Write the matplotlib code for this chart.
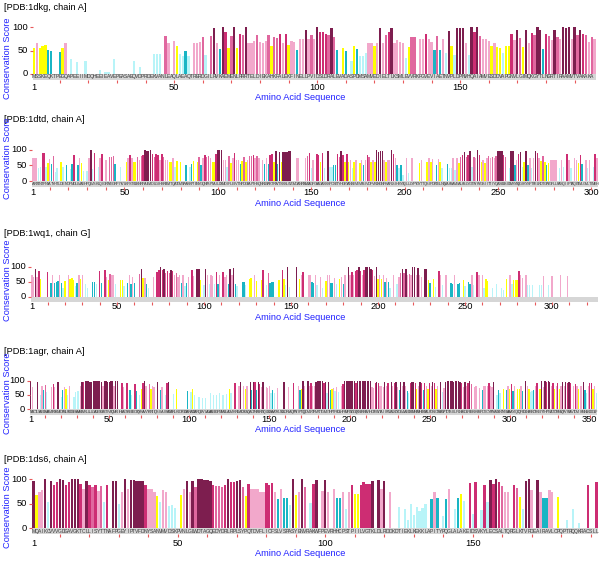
import matplotlib.pyplot as plt
from matplotlib.ticker import MultipleLocator

plt.rcParams['font.family'] = ['Liberation Sans', 'DejaVu Sans']

# Panel titles
titles = ['[PDB:1dkg, chain A]', '[PDB:1dtd, chain A]', '[PDB:1wq1, chain G]',
          '[PDB:1agr, chain A]', '[PDB:1ds6, chain A]']

# Residue sequences shown in the grey strip under each panel ('' = not readable)
seq_1dkg = ("MSSKEQKTPEGQAPEEIIMDQHEEIEAVEPEASAEQVDPRDEKVANLEAQLAEAQTRERDGILRVKAEMEN"
            "LRRRTELDIEKAHKFALEKFINELLPVIDSLDRALEVADASPDMSAMVEDIELTLKSMLEVVRKFGVEVIA"
            "ETNVPLDPNVHQAIAMVESDDVAPGNVLGIMQKGYTLNGRTIRAAMVTVAKAKA")
seq_1dtd = ("ARSTNTFNYATYHTLDEIYDFMDLLVAEHPQLVSKLQIGRSYEGRPIYVLKFSTGGSNRPAIWIDLGIHSRE"
            "WITQATGVWFAKKFTENYGQNPSFTAILDSMDIFLEIVTNPDGFAFTHSQNRLWRKTRSVTSSSLCVGVDAN"
            "RNWDAGFGKAGASSSPCSETYHGKYANSEVEVKSIVDFVKDHGNFKAFLSIHSYSQLLLYPYGYTTQSIPDK"
            "TELNQVAKSAVEALKSLYGTSYKYGSIITTIYQASGGSIDWSYNQGIKYSFTFELRDTGRYGFLLPASQIIP"
            "TAQETWLGVLTIMEHTVNNLY")
seq_1wq1 = ""
seq_1agr = ("MGCTLSAEDKAAVERSKMIDRNLREDGEKAAREVKLLLLGAGESGKSTIVKQMKIIHEAGYSEEECKQYKAV"
            "VYSNTIQSIIAIIRAMGRLKIDFGDSARADDARQLFVLAGAAEEGFMTAELAGVIKRLWKDSGVQACFNRSR"
            "EYQLNDSAAYYLNDLDRIAQPNYIPTQQDVLRTRVKTTGIVETHFTFKDLHFKMFDVGGQRSERKKWIHCFE"
            "GVTAIIFCVALSDYDLVLAEDEEMNRMHESMKLFDSICNNKWFTDTSIILFLNKKDLFEEKIKKSPLTICYP"
            "EYAGSNTYEEAAAYIQCQFEDLNKRKDTKEIYTHFTCATDTKNVQFVFDAVTDVIIKNNLKDCGLF")
seq_1ds6 = ("MQAIKCVVVGDGAVGKTCLLISYTTNAFPGEYIPTVFDNYSANVMVDSKPVNLGLWDTAGQEDYDRLRPLSY"
            "PQTDVFLICFSLVSPASYENVRAKWFPEVRHHCPSTPIILVGTKLDLRDDKDTIEKLKEKKLAPITYPQGLA"
            "LAKEIDSVKYLECSALTQRGLKTVFDEAIRAVLCPQPTRQQKRACSLL")

# Conservation score per residue
score_1dkg = [
    56, 67, 56, 60, 62, 52, 49, 0, 0, 47,
    55, 67, 0, 31, 0, 25, 0, 0, 28, 0,
    0, 0, 0, 8, 0, 5, 5, 0, 32, 0,
    0, 0, 0, 0, 0, 28, 0, 14, 0, 0,
    0, 0, 43, 43, 43, 0, 80, 65, 0, 70,
    60, 43, 38, 50, 38, 0, 67, 65, 69, 78,
    40, 0, 81, 97, 65, 53, 100, 89, 56, 81,
    100, 56, 86, 84, 100, 65, 67, 70, 83, 69,
    67, 71, 84, 60, 78, 76, 86, 67, 86, 62,
    70, 69, 51, 74, 74, 94, 74, 83, 74, 100,
    90, 89, 86, 83, 97, 78, 51, 0, 56, 49,
    0, 28, 60, 53, 38, 38, 45, 67, 67, 60,
    65, 97, 67, 83, 89, 97, 67, 72, 69, 67,
    33, 57, 78, 78, 0, 74, 74, 86, 75, 69,
    51, 81, 51, 74, 45, 92, 60, 40, 97, 97,
    97, 65, 40, 100, 89, 100, 81, 75, 74, 70,
    60, 65, 57, 56, 44, 60, 60, 86, 72, 94,
    77, 58, 94, 65, 88, 83, 100, 94, 53, 86,
    81, 72, 94, 78, 75, 100, 97, 99, 75, 100,
    84, 94, 86, 84, 69, 78, 75,
]
score_1dtd = [
    74, 74, 72, 42, 45, 88, 88, 45, 58, 70,
    55, 80, 29, 40, 0, 59, 45, 0, 52, 0,
    38, 54, 84, 0, 52, 72, 58, 33, 0, 33,
    74, 98, 37, 90, 0, 45, 74, 85, 0, 66,
    0, 77, 77, 80, 55, 0, 0, 45, 0, 0,
    60, 74, 82, 72, 60, 60, 77, 66, 79, 82,
    100, 96, 96, 98, 87, 77, 87, 82, 68, 85,
    77, 66, 66, 60, 60, 72, 45, 62, 0, 60,
    0, 0, 52, 0, 45, 55, 62, 0, 60, 77,
    52, 72, 84, 77, 80, 74, 60, 60, 85, 100,
    98, 98, 66, 66, 45, 79, 58, 72, 89, 66,
    66, 53, 62, 77, 60, 66, 79, 79, 82, 72,
    79, 72, 0, 66, 53, 72, 53, 84, 87, 60,
    96, 54, 93, 60, 93, 93, 93, 96, 96, 0,
    0, 72, 72, 0, 0, 0, 72, 80, 89, 40,
    66, 0, 87, 82, 61, 89, 40, 0, 96, 43,
    43, 50, 50, 87, 77, 96, 84, 61, 87, 61,
    68, 40, 61, 68, 0, 58, 68, 50, 68, 84,
    77, 61, 68, 61, 98, 93, 96, 96, 68, 61,
    68, 68, 98, 87, 72, 50, 40, 50, 20, 0,
    72, 25, 0, 72, 0, 0, 0, 58, 68, 0,
    0, 61, 74, 61, 70, 0, 50, 70, 61, 40,
    0, 0, 55, 40, 40, 72, 35, 72, 58, 77,
    82, 93, 77, 84, 96, 43, 77, 72, 98, 84,
    61, 68, 58, 72, 80, 72, 77, 72, 80, 96,
    96, 96, 84, 77, 0, 40, 96, 96, 50, 68,
    87, 93, 43, 61, 96, 50, 72, 40, 72, 96,
    89, 72, 63, 80, 60, 50, 58, 68, 68, 68,
    66, 0, 40, 68, 43, 0, 85, 68, 40, 0,
    72, 66, 58, 82, 55, 0, 66, 40, 68, 0,
    45, 85, 72,
]
score_1wq1 = [
    74, 67, 91, 67, 87, 58, 0, 0, 0, 83,
    0, 45, 72, 45, 50, 52, 74, 47, 30, 54,
    0, 72, 59, 61, 56, 35, 47, 74, 58, 74,
    0, 42, 30, 0, 0, 50, 50, 42, 0, 87,
    47, 0, 89, 67, 56, 76, 74, 74, 42, 0,
    0, 56, 56, 35, 0, 47, 74, 44, 67, 47,
    0, 0, 76, 91, 61, 64, 44, 30, 0, 0,
    67, 0, 83, 89, 98, 89, 94, 80, 87, 80,
    90, 87, 74, 80, 67, 74, 47, 72, 35, 47,
    67, 0, 89, 69, 0, 92, 92, 56, 0, 39,
    94, 74, 42, 72, 69, 43, 83, 44, 72, 0,
    83, 67, 72, 44, 94, 74, 96, 44, 36, 0,
    0, 50, 50, 39, 0, 58, 61, 0, 74, 53,
    0, 0, 56, 89, 0, 39, 80, 47, 50, 48,
    0, 0, 56, 0, 89, 58, 39, 100, 33, 0,
    0, 0, 100, 0, 58, 74, 83, 0, 0, 74,
    74, 50, 47, 74, 39, 0, 67, 28, 0, 54,
    74, 74, 47, 47, 63, 42, 0, 58, 67, 44,
    74, 0, 98, 72, 83, 72, 87, 89, 100, 87,
    72, 89, 98, 100, 98, 94, 89, 70, 98, 58,
    72, 58, 74, 50, 63, 50, 28, 0, 74, 0,
    43, 67, 80, 94, 80, 94, 74, 76, 72, 98,
    98, 72, 97, 74, 67, 0, 94, 94, 56, 47,
    0, 59, 33, 0, 87, 74, 39, 0, 74, 0,
    0, 47, 44, 74, 0, 44, 47, 0, 56, 36,
    0, 50, 44, 74, 39, 0, 83, 74, 0, 72,
    28, 58, 53, 0, 0, 28, 0, 42, 0, 0,
    28, 22, 0, 58, 0, 72, 43, 56, 56, 56,
    87, 74, 64, 0, 74, 39, 39, 0, 39, 0,
    0, 0, 39, 39, 69, 0, 0, 39, 0, 69,
    0, 0, 0, 0, 74, 0, 0, 0, 69, 0,
    0, 0, 0, 0, 0, 0, 0, 0, 0, 0,
    0, 0, 0, 0, 0, 0,
]
score_1agr = [
    99, 79, 0, 0, 96, 0, 49, 80, 67, 85,
    61, 0, 0, 79, 90, 79, 0, 96, 0, 44,
    67, 76, 69, 49, 82, 0, 0, 44, 59, 62,
    62, 80, 96, 94, 99, 99, 99, 96, 96, 100,
    100, 98, 99, 100, 97, 82, 99, 99, 96, 96,
    99, 99, 82, 99, 99, 0, 0, 91, 79, 0,
    91, 0, 67, 49, 0, 90, 64, 0, 49, 69,
    91, 99, 82, 0, 87, 69, 82, 79, 0, 96,
    0, 67, 79, 0, 49, 91, 96, 0, 0, 53,
    0, 70, 0, 0, 0, 0, 0, 0, 64, 0,
    61, 70, 49, 0, 0, 44, 0, 38, 0, 38,
    0, 0, 55, 0, 49, 0, 49, 0, 55, 0,
    49, 0, 52, 0, 69, 55, 0, 91, 91, 0,
    82, 96, 0, 80, 69, 82, 0, 96, 67, 96,
    94, 67, 96, 90, 79, 95, 0, 79, 73, 81,
    55, 67, 55, 0, 73, 0, 0, 0, 96, 0,
    0, 79, 0, 0, 93, 0, 0, 82, 67, 70,
    99, 82, 0, 99, 81, 91, 81, 82, 96, 99,
    99, 98, 99, 92, 96, 55, 96, 67, 70, 75,
    62, 76, 61, 0, 82, 89, 99, 100, 100, 100,
    100, 100, 100, 92, 100, 99, 99, 99, 99, 99,
    99, 99, 98, 79, 73, 91, 96, 93, 82, 82,
    79, 96, 81, 91, 0, 96, 82, 93, 96, 79,
    67, 96, 82, 95, 82, 65, 55, 93, 96, 96,
    93, 69, 81, 96, 91, 67, 91, 81, 70, 93,
    82, 96, 91, 70, 82, 0, 96, 61, 75, 96,
    99, 99, 98, 99, 97, 99, 99, 98, 96, 91,
    79, 95, 82, 91, 99, 87, 0, 76, 81, 0,
    73, 0, 67, 81, 82, 81, 91, 82, 79, 96,
    0, 49, 67, 55, 0, 70, 0, 67, 82, 70,
    90, 65, 81, 0, 69, 69, 82, 65, 0, 99,
    82, 70, 61, 62, 67, 82, 91, 0, 69, 99,
    79, 99, 94, 99, 96, 82, 91, 69, 81, 91,
    70, 82, 96, 82, 96, 93, 96, 93, 0, 82,
    89, 81, 69, 81, 82, 96, 67, 55, 82, 91,
    91, 70, 82, 55,
]
score_1ds6 = [
    96, 68, 74, 78, 100, 54, 96, 88, 93, 99,
    97, 88, 93, 99, 100, 99, 90, 80, 96, 88,
    84, 88, 76, 86, 54, 88, 0, 96, 96, 49,
    73, 99, 79, 98, 98, 96, 95, 95, 88, 79,
    80, 74, 66, 54, 78, 74, 45, 47, 41, 0,
    68, 80, 95, 74, 95, 84, 100, 99, 98, 97,
    95, 88, 86, 86, 84, 88, 100, 93, 93, 95,
    97, 84, 66, 89, 80, 80, 80, 74, 74, 91,
    87, 91, 73, 59, 80, 61, 61, 47, 99, 68,
    73, 99, 84, 0, 52, 90, 98, 0, 76, 97,
    74, 0, 79, 62, 61, 73, 40, 74, 88, 70,
    70, 88, 93, 90, 90, 95, 0, 97, 80, 95,
    0, 73, 0, 0, 44, 0, 39, 17, 49, 27,
    44, 35, 41, 49, 0, 59, 73, 61, 0, 24,
    59, 80, 0, 39, 61, 70, 55, 0, 91, 30,
    93, 0, 37, 88, 54, 98, 89, 100, 94, 86,
    73, 73, 0, 88, 82, 64, 40, 96, 99, 78,
    0, 98, 74, 61, 62, 78, 73, 0, 64, 0,
    0, 17, 0, 39, 0, 10, 0, 0, 88, 0,
    0, 93,
]

scores = [score_1dkg, score_1dtd, score_1wq1, score_1agr, score_1ds6]
seqs = [seq_1dkg, seq_1dtd, seq_1wq1, seq_1agr, seq_1ds6]
score_ticks = [0, 50, 100]

# grade colours, most conserved first
grade_colors = ['#7d1e4f', '#cd2d73', '#e0679f', '#f2a8cb', '#ffff00', '#19b5c4', '#b8f4f8']
# lower score bound of the first six grades in each panel
grade_cuts = [
    (92, 85, 76, 63, 54, 46),
    (93, 82, 76, 64, 57, 48),
    (90, 82, 75, 62, 53, 44),
    (95, 89, 84, 72, 68, 63),
    (95, 87, 81, 73, 63, 57),
]

# panel layout in pixels: left, right, y of 0, y of 100, title y, tick label y, xlabel y, ylabel y
layout = [
    (32.6, 596, 74, 27, 8, 88, 98, 58),
    (32, 598, 181, 149.5, 119, 192, 203, 158),
    (31, 598, 296.7, 266.7, 234, 305, 317, 280),
    (30, 597, 409, 380.7, 351, 418, 429, 393),
    (32, 598, 528.3, 479, 459, 543, 554, 507),
]

W, H = 600, 562
FS = 6.7
BLUE = '#2222ff'
TICKRED = '#e8585a'
STRIP_PX = 5.5


def grade_color(v, cuts):
    for c, col in zip(cuts, grade_colors):
        if v >= c:
            return col
    return grade_colors[-1]


fig = plt.figure(figsize=(W / 100, H / 100), dpi=100)

for k in range(len(scores)):
    vals = scores[k]
    n = len(vals)
    left, right, y0, y100, ty, lab_y, xl_y, yl_y = layout[k]
    ppu = (y0 - y100) / 100.0  # pixels per score unit
    ybot = -STRIP_PX / ppu
    ytop = 100 + 3 / ppu
    ax = fig.add_axes([left / W, 1 - (y0 + STRIP_PX) / H,
                       (right - left) / W, (y0 + STRIP_PX - (y100 - 3)) / H])
    xs = list(range(1, n + 1))
    cols = [grade_color(v, grade_cuts[k]) for v in vals]
    ax.bar(xs, vals, width=0.8, color=cols, linewidth=0)
    ax.set_xlim(0.5, n + 0.5)
    ax.set_ylim(ybot, ytop)

    # grey sequence strip
    ax.axhspan(ybot, 0, color='#d6d6d6', lw=0, zorder=0)
    seq = seqs[k]
    lfs = 3.6 if n < 250 else 2.8
    for i, ch in enumerate(seq[:n]):
        ax.text(i + 1, ybot / 2, ch, fontsize=lfs, ha='center', va='center',
                color='#3a3a3a')

    for s in ax.spines.values():
        s.set_visible(False)

    # y axis: red tick marks, labels written next to them
    ax.set_yticks(score_ticks)
    ax.set_yticklabels([])
    ax.tick_params(axis='y', length=2.5, width=0.8, color=TICKRED)
    for v in score_ticks:
        ax.annotate(str(v), xy=(0, v), xycoords=('axes fraction', 'data'),
                    xytext=(-3.4, 0), textcoords='offset points',
                    ha='right', va='center', fontsize=FS, annotation_clip=False)

    # x axis: labels at 1, 50, 100 ... and small red marks every 10 residues
    ax.xaxis.remove_overlapping_locs = False
    ax.set_xticks([1] + list(range(50, n + 1, 50)))
    ax.xaxis.set_minor_locator(MultipleLocator(10))
    pad_pt = max(lab_y - 4.5 - (y0 + STRIP_PX), 0) * 0.72
    ax.tick_params(axis='x', which='major', length=0, pad=pad_pt, labelsize=FS)
    ax.tick_params(axis='x', which='minor', length=2.5, width=0.8, color=TICKRED)

    fig.text(4 / W, 1 - ty / H, titles[k], ha='left', va='center', fontsize=FS)
    fig.text(300 / W, 1 - xl_y / H, 'Amino Acid Sequence', ha='center',
             va='center', fontsize=FS, color=BLUE)
    fig.text(8 / W, 1 - yl_y / H, 'Conservation Score', ha='center',
             va='center', rotation=90, fontsize=FS, color=BLUE)

fig.savefig('out.png', dpi=100)
